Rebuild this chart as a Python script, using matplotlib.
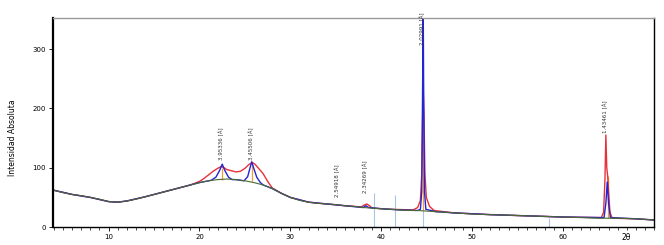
import numpy as np
import matplotlib.pyplot as plt
from matplotlib.ticker import MultipleLocator
from matplotlib.transforms import blended_transform_factory

# fondo (linea verde)
bg_x = [4, 5, 6, 7, 8, 9, 10, 11, 12, 13, 14, 15, 16, 17, 18, 19, 20, 21, 22, 23,
        24, 25, 26, 27, 28, 29, 30, 31, 32, 33, 34, 35, 36, 37, 38, 39, 40, 41, 42,
        43, 44, 45, 46, 47, 48, 50, 52, 54, 56, 58, 60, 62, 64, 66, 68, 70]
bg_y = [62, 58, 55, 53, 50, 47, 43, 42, 44, 47, 51, 55, 59, 63, 67, 71, 75, 78, 80, 81,
        80, 78, 75, 71, 65, 57, 50, 45, 42, 40, 39, 38, 36, 35, 33, 32, 31, 30, 29,
        28, 28, 27, 26, 25, 24, 22, 21, 20, 19, 18, 17, 16, 15, 15, 14, 12]

# observado (rojo)
obs_x = [4, 6, 8, 10, 11, 12, 14, 16, 18, 19, 20, 20.5, 21, 21.5, 22, 22.4, 22.7, 23,
         23.5, 24, 24.5, 25, 25.4, 25.8, 26.1, 26.5, 27, 27.5, 28, 29, 30, 32, 34, 36,
         37.8, 38.1, 38.4, 38.7, 39, 41, 43.5, 44.0, 44.3, 44.45, 44.55, 44.62, 44.7,
         44.8, 44.95, 45.3, 45.8, 48, 52, 56, 60, 64.2, 64.45, 64.6, 64.7, 64.8, 64.9,
         65.0, 65.15, 65.4, 68, 70]
obs_y = [62, 55, 50, 43, 42, 44, 51, 59, 67, 71, 77, 82, 88, 94, 99, 102, 100, 97,
         95, 93, 94, 99, 105, 109, 106, 99, 90, 77, 66, 57, 50, 42, 39, 36,
         34, 37, 39, 36, 32, 30, 29, 33, 45, 90, 190, 225, 180, 90, 50, 35, 28, 24, 21,
         19, 17, 16, 25, 80, 155, 100, 86, 60, 25, 15, 14, 12]

# calculado (azul)
calc_x = [4, 6, 8, 10, 11, 12, 14, 16, 18, 20, 21, 21.3, 21.8, 22.2, 22.5, 22.8, 23.2,
          23.6, 24, 24.9, 25.3, 25.6, 25.75, 25.95, 26.3, 26.7, 27, 28, 29, 30, 32, 34,
          36, 38, 38.3, 38.6, 40, 42, 44, 44.3, 44.45, 44.55, 44.6, 44.65, 44.75, 44.9,
          46, 48, 52, 56, 60, 64.5, 64.7, 64.85, 65.0, 65.2, 68, 70]
calc_y = [62, 55, 50, 43, 42, 44, 51, 59, 67, 75, 78, 79, 84, 95, 106, 95, 84,
          80, 80, 78, 85, 102, 110, 100, 84, 75, 71, 65, 57, 50, 42, 39,
          36, 33, 36, 33, 31, 29, 28, 30, 60, 250, 400, 250, 60, 30,
          26, 24, 21, 19, 17, 16, 40, 76, 40, 16, 14, 12]

# barras de posicion de picos (naranja)
stick_x = [22.5, 25.75, 44.6, 64.9]
stick_lo = [80, 77, 28, 15]
stick_hi = [100, 104, 200, 86]

# lineas de referencia (azul claro)
ref_x = [39.2, 41.5, 44.6, 58.5]
ref_h = [58, 54, 30, 16]

# etiquetas de picos
lab_x = [22.45, 25.75, 35.2, 38.3, 44.6, 64.7]
lab_y = [113, 113, 50, 57, 306, 158]
lab_txt = ["3.95336 [Å]", "3.45506 [Å]", "2.54918 [Å]", "2.34269 [Å]",
           "2.02991 [Å]", "1.43461 [Å]"]

fig = plt.figure(figsize=(6.64, 2.45), dpi=100)
ax = fig.add_axes([0.08, 0.073, 0.905, 0.853])

ax.vlines(ref_x, 0, ref_h, color="#a9c6e6", lw=0.8)
ax.vlines(stick_x, stick_lo, stick_hi, color="#f0a030", lw=0.9)
ax.plot(obs_x, obs_y, color="#e8303a", lw=1.0)
ax.plot(calc_x, calc_y, color="#2424d0", lw=1.0)
ax.plot(bg_x, bg_y, color="#4a6a30", lw=0.8)

for x, y, t in zip(lab_x, lab_y, lab_txt):
    ax.text(x, y, t, rotation=90, ha="center", va="bottom", fontsize=4, color="#333333")

ax.set_xlim(3.9, 70)
ax.set_ylim(0, 352)
ax.xaxis.set_major_locator(MultipleLocator(10))
ax.xaxis.set_minor_locator(MultipleLocator(1))
ax.yaxis.set_major_locator(MultipleLocator(100))
ax.set_xticks([10, 20, 30, 40, 50, 60])
ax.tick_params(axis="both", labelsize=5, length=3, width=0.6, direction="out", pad=2)
ax.tick_params(axis="x", which="minor", length=2, width=0.5)

for s in ["left", "bottom", "right"]:
    ax.spines[s].set_color("black")
ax.spines["left"].set_linewidth(1.6)
ax.spines["bottom"].set_linewidth(1.0)
ax.spines["right"].set_linewidth(1.0)
ax.spines["top"].set_color("#999999")
ax.spines["top"].set_linewidth(1.0)

ax.set_ylabel("Intensidad Absoluta", fontsize=5.5)
ax.yaxis.set_label_coords(-0.06, 0.43)
tr = blended_transform_factory(ax.transData, ax.transAxes)
ax.text(66.9, -0.03, "2θ", transform=tr, ha="center", va="top", fontsize=5.5)

fig.savefig("out.png", dpi=100)
